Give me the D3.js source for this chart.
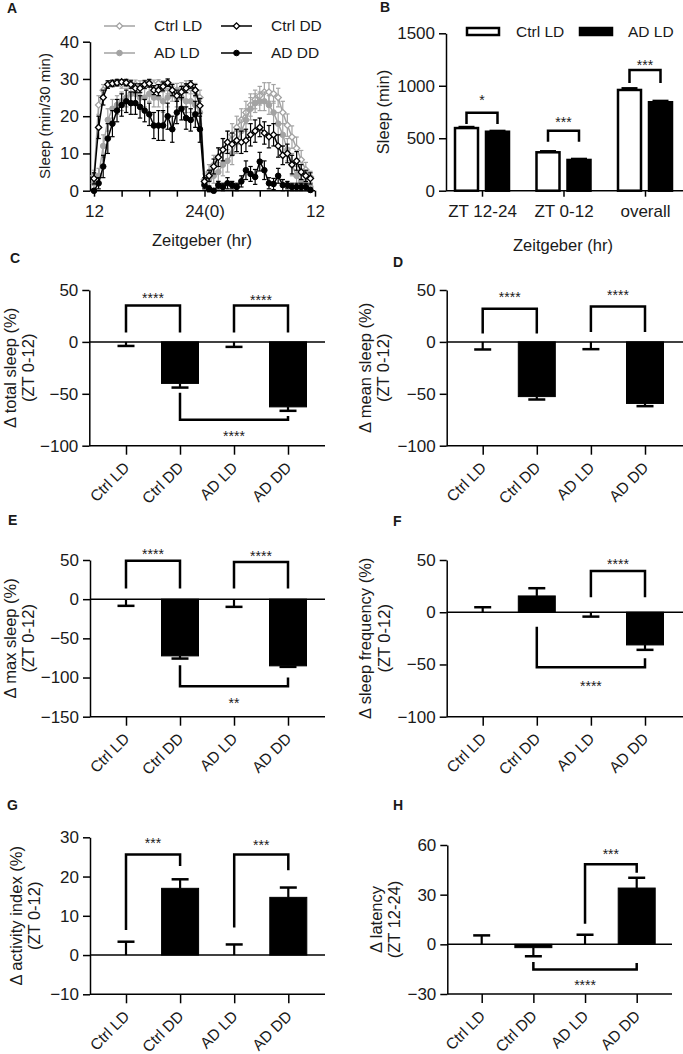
<!DOCTYPE html>
<html><head><meta charset="utf-8">
<script src="https://cdn.jsdelivr.net/npm/d3@7"></script>
<style>
body{margin:0;background:#fff}
svg{display:block}
text{font-family:"Liberation Sans",Arial,sans-serif;fill:#1a1a1a}
</style>
</head><body>
<svg id="fig" width="683" height="1054"></svg>
<script>
// ---------------- DATA ----------------
// Panel A: half-hour bins from ZT12 through the next ZT12
const ztBins = [12,12.5,13,13.5,14,14.5,15,15.5,16,16.5,17,17.5,18,18.5,19,19.5,20,20.5,21,21.5,22,22.5,23,23.5,
                24,24.5,25,25.5,26,26.5,27,27.5,28,28.5,29,29.5,30,30.5,31,31.5,32,32.5,33,33.5,34,34.5,35,35.5];
const aXTicks = [12,15,18,21,24,27,30,33,36];
const aXTickLabels = ["12","","","","24(0)","","","","12"];
const aYTicks = [0,10,20,30,40];

const ctrlLD = [4,23,27,28.5,28.8,29,28.5,29,28.8,28.5,28,28.5,29,28.5,28.8,28,27.5,27,27,27.5,28,27.5,27,25,
                3,5,7,9,11,13,15,17,19,21,23,24.5,25.5,26.5,26.5,26,25,21,17.6,14.4,11.4,8.3,5.6,3.7];
const ctrlLDErr = [1.5,2.5,1.5,1,1,1,1,1,1,1.2,1.5,1.2,1,1.2,1,1.5,1.5,1.8,1.8,1.5,1.5,1.5,1.8,2,
                   1.5,2,2.5,2.5,3,3,3,3,3,3,3,2.5,2.5,2.5,2.5,2.5,2.5,3,3,3,3,2.5,2,1.5];
const adLD = [2,4,12,19,22,23,24,25,26,26,25,25,26,25,25,24,25,26,25,25,24,24,23,21,
              2,3,4,5,7,8,10,13,16,19,22,23.5,24,24,23,21,18,15,11,7,4,2.5,1.5,1];
const adLDErr = [1.5,2,3,3,2.5,2.5,2.5,2.5,2,2,2.5,2.5,2,2.5,2.5,3,2.5,2,2.5,2.5,3,3,3,3,
                 1.5,2,2,2.5,3,3,3,3,3,3,3,2.5,2.5,2.5,2.5,3,3,3,3,3,2.5,2,1.5,1];
const ctrlDD = [3.3,17,25,28.5,28.8,29,29.2,29,28.5,27.5,27.5,28.5,28.8,27,27,28,29,27,25.5,26.5,27.5,28.5,27,22.8,
                2.5,4,6.5,9,11,13,12.5,13.5,13,13.5,15,16,17,15.5,14.5,15,12,9.5,10,7,8,5,4,3.3];
const ctrlDDErr = [1.5,3,2,1,0.8,0.8,0.6,0.8,1,1.2,1.2,1,1,1.2,1.5,1.2,1,1.5,1.5,1.5,1.2,1,1.5,2,
                   1,1.5,2,2.5,3,3,3,3,3,3,3,3,2.5,3,3,3,3,2.5,2.5,2.5,2.5,2,1.5,1.5];
const adDD = [0,2,6.5,14,18,21.5,23,24,23.5,23.5,22.5,21.5,20.5,17.5,17.5,17.5,20,16.5,21,22,19.5,19,20.5,16.5,
              1.5,0.5,0,1.5,1,2,1.5,1,2.5,5.5,4.5,3.7,7.8,5.5,2,1.8,4,1.5,1.5,1,1,1,1,0.2];
const adDDErr = [0.5,1.5,3,4,3.5,3,3,3,3,3,3,3,3,3.5,4,4,3.5,3.5,3,3,3,3,3.5,3.5,
                 1,0.8,0.5,1,1,1.5,1,1,1.5,2.5,2,2,2.5,2.5,1.5,1.5,2,1.5,1,1,1,1,1,0.5];

// Panel B
const bCategories = ["ZT 12-24","ZT 0-12","overall"];
const bSeries = ["Ctrl LD","AD LD"];
const bCtrl = [597,366,960];
const bCtrlErr = [12,12,18];
const bAD = [562,293,843];
const bADErr = [10,12,15];
const bYTicks = [0,500,1000,1500];

// Panels C-H
const groups = ["Ctrl LD","Ctrl DD","AD LD","AD DD"];
const totalSleep = [0,-40,0,-62.6];      const totalSleepErr = [-3.9,-4,-4.8,-3.8];
const meanSleep = [0,-52.7,0,-59.3];     const meanSleepErr = [-7.3,-2.8,-7,-2.6];
const maxSleep = [0,-72.4,0,-85.1];      const maxSleepErr = [-8.5,-3.4,-9.8,-1.3];
const sleepFreq = [0,15.6,0,-31.3];      const sleepFreqErr = [4.8,7.4,-4.2,-4.7];
const activityIdx = [0,17,0,14.7];       const activityIdxErr = [3.4,2.3,2.7,2.5];
const latency = [0,-2,0,34];             const latencyErr = [5.4,-5.2,5.8,6.2];
const ticksC = [-100,-50,0,50];
const ticksE = [-150,-100,-50,0,50];
const ticksG = [-10,0,10,20,30];
const ticksH = [-30,0,30,60];

// ---------------- DRAWING ----------------
const svg = d3.select("#fig");
const GRAY = "#a3a3a3";
const TICK_FS = 17, TITLE_FS = 16.5, XLAB_FS = 15.5;

function panelLabel(t, x, y){
  svg.append("text").attr("x",x).attr("y",y).attr("font-size",14).attr("font-weight","bold").text(t);
}
function yTitle(lines, xs, cy, fs){
  lines.forEach((l,i)=>{
    svg.append("text").attr("transform",`translate(${xs[i]},${cy}) rotate(-90)`)
      .attr("text-anchor","middle").attr("dy","0.35em").attr("font-size",fs||TITLE_FS).text(l);
  });
}
function styleAxis(g){
  g.selectAll("path.domain").attr("stroke","#000").attr("stroke-width",1.5);
  g.selectAll(".tick line").attr("stroke","#000").attr("stroke-width",1.5);
  g.selectAll(".tick text").attr("font-size",TICK_FS).attr("fill","#1a1a1a")
    .style("font-family","Liberation Sans, Arial, sans-serif");
}

// ---- Panel A ----
(function(){
  const x = d3.scaleLinear().domain([12,36]).range([94,315]);
  const y = d3.scaleLinear().domain([0,40]).range([190.7,41.7]);
  const gy = svg.append("g").attr("transform","translate(90,0)")
    .call(d3.axisLeft(y).tickValues(aYTicks).tickSize(7).tickPadding(4).tickSizeOuter(0));
  styleAxis(gy);
  const gx = svg.append("g").attr("transform",`translate(0,${y(0)})`)
    .call(d3.axisBottom(x).tickValues(aXTicks).tickFormat((d,i)=>aXTickLabels[i]).tickSize(6).tickPadding(8).tickSizeOuter(0));
  styleAxis(gx);
  gx.select("path.domain").remove();
  svg.append("line").attr("x1",90).attr("x2",x(36)).attr("y1",y(0)).attr("y2",y(0)).attr("stroke","#000").attr("stroke-width",1.5);

  const series = [
    {v:ctrlLD,e:ctrlLDErr,color:GRAY,marker:"diamond",fill:"#fff"},
    {v:adLD,e:adLDErr,color:GRAY,marker:"circle",fill:GRAY},
    {v:adDD,e:adDDErr,color:"#000",marker:"circle",fill:"#000"},
    {v:ctrlDD,e:ctrlDDErr,color:"#000",marker:"diamond",fill:"#fff"}
  ];
  const line = d3.line().x((d,i)=>x(ztBins[i])).y(d=>y(d));
  series.forEach(s=>{
    const g = svg.append("g");
    s.v.forEach((v,i)=>{
      const cx = x(ztBins[i]);
      g.append("line").attr("x1",cx).attr("x2",cx).attr("y1",y(v-s.e[i])).attr("y2",y(v+s.e[i]))
        .attr("stroke",s.color).attr("stroke-width",1.2);
      [v-s.e[i], v+s.e[i]].forEach(ev=>{
        g.append("line").attr("x1",cx-2.2).attr("x2",cx+2.2).attr("y1",y(ev)).attr("y2",y(ev))
          .attr("stroke",s.color).attr("stroke-width",1.2);
      });
    });
    g.append("path").datum(s.v).attr("d",line).attr("fill","none").attr("stroke",s.color).attr("stroke-width",1.5);
    s.v.forEach((v,i)=>{
      const cx = x(ztBins[i]), cy = y(v);
      if(s.marker==="circle"){
        g.append("circle").attr("cx",cx).attr("cy",cy).attr("r",2.8).attr("fill",s.fill).attr("stroke",s.color).attr("stroke-width",1);
      } else {
        g.append("path").attr("d",d3.symbol(d3.symbolSquare,20)()).attr("transform",`translate(${cx},${cy}) rotate(45)`)
          .attr("fill",s.fill).attr("stroke",s.color).attr("stroke-width",1.3);
      }
    });
  });
  // legend
  const leg = [
    {t:"Ctrl LD",x:104,y:26,color:GRAY,marker:"diamond",fill:"#fff"},
    {t:"Ctrl DD",x:221,y:26,color:"#000",marker:"diamond",fill:"#fff"},
    {t:"AD LD",x:104,y:53,color:GRAY,marker:"circle",fill:GRAY},
    {t:"AD DD",x:221,y:53,color:"#000",marker:"circle",fill:"#000"}
  ];
  leg.forEach(l=>{
    svg.append("line").attr("x1",l.x).attr("x2",l.x+31).attr("y1",l.y).attr("y2",l.y).attr("stroke",l.color).attr("stroke-width",1.5);
    if(l.marker==="circle") svg.append("circle").attr("cx",l.x+15.5).attr("cy",l.y).attr("r",2.8).attr("fill",l.fill).attr("stroke",l.color);
    else svg.append("path").attr("d",d3.symbol(d3.symbolSquare,20)()).attr("transform",`translate(${l.x+15.5},${l.y}) rotate(45)`)
      .attr("fill",l.fill).attr("stroke",l.color).attr("stroke-width",1.3);
    svg.append("text").attr("x",l.x+50).attr("y",l.y).attr("dy","0.35em").attr("font-size",15.5).text(l.t);
  });
  yTitle(["Sleep (min/30 min)"],[45],116,15);
  svg.append("text").attr("x",202).attr("y",240).attr("dy","0.35em").attr("text-anchor","middle").attr("font-size",TITLE_FS).text("Zeitgeber (hr)");
  panelLabel("A",7,13);
})();

// ---- Panel B ----
(function(){
  const x = d3.scalePoint().domain(bCategories).range([482,645]);
  const xs = d3.scaleBand().domain(bSeries).range([-27,27]).paddingInner(0.258);
  const y = d3.scaleLinear().domain([0,1500]).range([190.7,33.3]);
  const gy = svg.append("g").attr("transform","translate(446,0)")
    .call(d3.axisLeft(y).tickValues(bYTicks).tickFormat(d3.format("d")).tickSize(7).tickPadding(4).tickSizeOuter(0));
  styleAxis(gy);
  const gx = svg.append("g").attr("transform",`translate(0,${y(0)})`)
    .call(d3.axisBottom(x).tickSize(6).tickPadding(8).tickSizeOuter(0));
  styleAxis(gx);
  gx.select("path.domain").remove();
  svg.append("line").attr("x1",446).attr("x2",683).attr("y1",y(0)).attr("y2",y(0)).attr("stroke","#000").attr("stroke-width",1.5);

  const sets = [{name:"Ctrl LD",v:bCtrl,e:bCtrlErr,fill:"#fff"},{name:"AD LD",v:bAD,e:bADErr,fill:"#000"}];
  sets.forEach(s=>{
    s.v.forEach((v,i)=>{
      const cx = x(bCategories[i]) + xs(s.name) + xs.bandwidth()/2;
      svg.append("line").attr("x1",cx).attr("x2",cx).attr("y1",y(v)).attr("y2",y(v+s.e[i])).attr("stroke","#000").attr("stroke-width",2);
      svg.append("line").attr("x1",cx-8).attr("x2",cx+8).attr("y1",y(v+s.e[i])).attr("y2",y(v+s.e[i])).attr("stroke","#000").attr("stroke-width",2);
      svg.append("rect").attr("x",x(bCategories[i])+xs(s.name)).attr("width",xs.bandwidth())
        .attr("y",y(v)).attr("height",y(0)-y(v)).attr("fill",s.fill).attr("stroke","#000").attr("stroke-width",2.5);
    });
  });
  const br = [{c:0,level:743,leg:636,t:"*",ty:893},{c:1,level:572,leg:467,t:"***",ty:683},{c:2,level:1150,leg:1026,t:"***",ty:1226}];
  br.forEach(b=>{
    const x1 = x(bCategories[b.c])+xs("Ctrl LD")+xs.bandwidth()/2;
    const x2 = x(bCategories[b.c])+xs("AD LD")+xs.bandwidth()/2;
    svg.append("path").attr("d",`M${x1},${y(b.leg)}V${y(b.level)}H${x2}V${y(b.leg)}`)
      .attr("fill","none").attr("stroke","#000").attr("stroke-width",2.5);
    svg.append("text").attr("x",(x1+x2)/2).attr("y",y(b.ty)+8).attr("text-anchor","middle").attr("font-size",14).attr("fill","#333").text(b.t);
  });
  // legend
  [{t:"Ctrl LD",x:467,fill:"#fff",tx:516},{t:"AD LD",x:580,fill:"#000",tx:628}].forEach(l=>{
    svg.append("rect").attr("x",l.x).attr("y",28).attr("width",32).attr("height",7).attr("fill",l.fill).attr("stroke","#000").attr("stroke-width",2.5);
    svg.append("text").attr("x",l.tx).attr("y",32).attr("dy","0.35em").attr("font-size",15.5).text(l.t);
  });
  yTitle(["Sleep (min)"],[383],112);
  svg.append("text").attr("x",563).attr("y",245).attr("dy","0.35em").attr("text-anchor","middle").attr("font-size",TITLE_FS).text("Zeitgeber (hr)");
  panelLabel("B",380,12);
})();

// ---- Generic bar panel (C-H) ----
function barPanel(cfg){
  const x = d3.scalePoint().domain(groups).range(cfg.xr);
  const y = d3.scaleLinear().domain(cfg.dom).range(cfg.yr);
  const yb = cfg.yr[0];
  const gy = svg.append("g").attr("transform",`translate(${cfg.ax},0)`)
    .call(d3.axisLeft(y).tickValues(cfg.ticks).tickSize(7).tickPadding(4).tickSizeOuter(0));
  styleAxis(gy);
  const gx = svg.append("g").attr("transform",`translate(0,${yb})`)
    .call(d3.axisBottom(x).tickSize(9).tickSizeOuter(0));
  styleAxis(gx);
  gx.select("path.domain").remove();
  gx.selectAll(".tick text").attr("y",0).attr("dy",0).attr("font-size",XLAB_FS)
    .attr("transform","translate(4,23) rotate(-45)").attr("text-anchor","end");
  svg.append("line").attr("x1",cfg.ax).attr("x2",cfg.axEnd).attr("y1",yb).attr("y2",yb).attr("stroke","#000").attr("stroke-width",1.5);
  svg.append("line").attr("x1",cfg.ax).attr("x2",cfg.axEnd).attr("y1",y(0)).attr("y2",y(0)).attr("stroke","#000").attr("stroke-width",1.5);
  const bw = 37;
  cfg.means.forEach((v,i)=>{
    const cx = x(groups[i]);
    const e = v + cfg.errs[i];
    svg.append("line").attr("x1",cx).attr("x2",cx).attr("y1",y(v)).attr("y2",y(e)).attr("stroke","#000").attr("stroke-width",2.2);
    svg.append("line").attr("x1",cx-8.5).attr("x2",cx+8.5).attr("y1",y(e)).attr("y2",y(e)).attr("stroke","#000").attr("stroke-width",2.5);
    const filled = groups[i].endsWith("DD");
    svg.append("rect").attr("x",cx-bw/2).attr("width",bw)
      .attr("y",Math.min(y(v),y(0))).attr("height",Math.abs(y(0)-y(v)))
      .attr("fill",filled?"#000":"#fff").attr("stroke","#000").attr("stroke-width",filled?1:2);
  });
  cfg.brackets.forEach(b=>{
    const x1 = x(groups[b.a]), x2 = x(groups[b.b]);
    svg.append("path").attr("d",`M${x1},${y(b.ya)}V${y(b.level)}H${x2}V${y(b.yb)}`)
      .attr("fill","none").attr("stroke","#000").attr("stroke-width",2.5);
    svg.append("text").attr("x",(x1+x2)/2).attr("y",y(b.ty)+8).attr("text-anchor","middle")
      .attr("font-size",14).attr("fill","#333").text(b.t);
  });
  yTitle(cfg.title, cfg.titleX, (cfg.yr[0]+cfg.yr[1])/2);
  panelLabel(cfg.label, cfg.lx, cfg.ly);
}

barPanel({label:"C",lx:10,ly:263,xr:[126,288],ax:89.3,axEnd:325,dom:[-100,50],yr:[445.7,290],ticks:ticksC,
  means:totalSleep,errs:totalSleepErr,title:["\u0394 total sleep (%)","(ZT 0-12)"],titleX:[10,28],
  brackets:[{a:0,b:1,ya:9,yb:9,level:35,t:"****",ty:45},{a:2,b:3,ya:9,yb:9,level:35,t:"****",ty:43},
            {a:1,b:3,ya:-49,yb:-71.5,level:-75,t:"****",ty:-88}]});
barPanel({label:"D",lx:393,ly:267,xr:[482.7,645],ax:446.7,axEnd:683,dom:[-100,50],yr:[445.7,290],ticks:ticksC,
  means:meanSleep,errs:meanSleepErr,title:["\u0394 mean sleep (%)","(ZT 0-12)"],titleX:[365,383],
  brackets:[{a:0,b:1,ya:8,yb:8,level:32,t:"****",ty:46},{a:2,b:3,ya:9.6,yb:9.6,level:34,t:"****",ty:48}]});
barPanel({label:"E",lx:8,ly:525,xr:[126,288],ax:90,axEnd:325,dom:[-150,50],yr:[716.7,560],ticks:ticksE,
  means:maxSleep,errs:maxSleepErr,title:["\u0394 max sleep (%)","(ZT 0-12)"],titleX:[10,28],
  brackets:[{a:0,b:1,ya:13.6,yb:13.6,level:49,t:"****",ty:61.7},{a:2,b:3,ya:13.6,yb:13.6,level:47.6,t:"****",ty:59},
            {a:1,b:3,ya:-84.4,yb:-100,level:-111,t:"**",ty:-129}]});
barPanel({label:"F",lx:393,ly:526,xr:[482.7,645],ax:446.7,axEnd:683,dom:[-100,50],yr:[716.7,560],ticks:ticksC,
  means:sleepFreq,errs:sleepFreqErr,title:["\u0394 sleep frequency (%)","(ZT 0-12)"],titleX:[365,384],
  brackets:[{a:2,b:3,ya:14.4,yb:14.4,level:39.5,t:"****",ty:49.5},
            {a:1,b:3,ya:-13.8,yb:-44,level:-52.7,t:"****",ty:-68}]});
barPanel({label:"G",lx:7,ly:810,xr:[126,288.3],ax:90,axEnd:325,dom:[-10,30],yr:[994.3,837.3],ticks:ticksG,
  means:activityIdx,errs:activityIdxErr,title:["\u0394 activity index (%)","(ZT 0-12)"],titleX:[16,34],
  brackets:[{a:0,b:1,ya:6.4,yb:22.7,level:25.6,t:"***",ty:29.3},{a:2,b:3,ya:7,yb:21.6,level:25.6,t:"***",ty:28.8}]});
barPanel({label:"H",lx:393,ly:810,xr:[481.7,636.7],ax:447.3,axEnd:672,dom:[-30,60],yr:[994,845],ticks:ticksH,
  means:latency,errs:latencyErr,title:["\u0394 latency","(ZT 12-24)"],titleX:[376,394],
  brackets:[{a:2,b:3,ya:12.5,yb:43.2,level:48.3,t:"***",ty:56.5},
            {a:1,b:3,ya:-10.7,yb:-11.3,level:-15.2,t:"****",ty:-22.8}]});
</script>
</body></html>
